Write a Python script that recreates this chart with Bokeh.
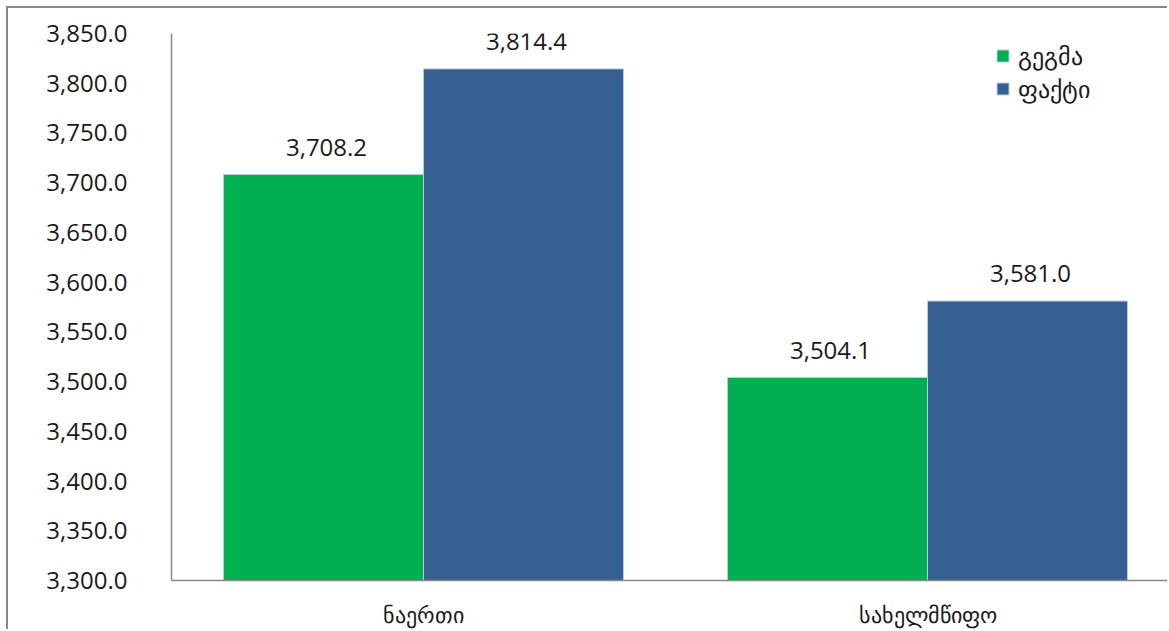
from bokeh.plotting import figure
from bokeh.models import (ColumnDataSource, Range1d, FixedTicker, NumeralTickFormatter,
                          Legend, LegendItem)
from bokeh.transform import dodge
from bokeh.core.properties import value
from bokeh.embed import file_html
from bokeh.resources import INLINE

categories = ["ნაერთი", "სახელმწიფო"]
series_names = ["გეგმა", "ფაქტი"]
plan = [3708.2, 3504.1]
fact = [3814.4, 3581.0]
y_ticks = [3300, 3350, 3400, 3450, 3500, 3550, 3600, 3650, 3700, 3750, 3800, 3850]

GREEN = "#00B050"
BLUE = "#376092"
EDGE = "#B9CBE4"
AXIS = "#898989"
FONT = "Open Sans"

xs = [i + 0.5 for i in range(len(categories))]
src = ColumnDataSource(dict(
    x=xs, plan=plan, fact=fact,
    plan_lbl=[f"{v:,.1f}" for v in plan],
    fact_lbl=[f"{v:,.1f}" for v in fact],
))

p = figure(width=1161, height=623, output_backend="svg", toolbar_location=None,
           x_range=Range1d(0, 998 / 504), y_range=Range1d(y_ticks[0], y_ticks[-1]),
           min_border_left=163, min_border_right=0, min_border_top=25, min_border_bottom=50)
# outer chart border: only left and top edges are visible in the reference
p.styles = {"margin-left": "6px", "margin-top": "6px",
            "border-left": f"2px solid {AXIS}", "border-top": f"2px solid {AXIS}"}
p.outline_line_color = None
p.xgrid.visible = False
p.ygrid.visible = False
p.background_fill_color = "white"
p.border_fill_color = "white"

bw = 200 / 504
r1 = p.vbar(x=dodge("x", -bw / 2, range=p.x_range), top="plan", bottom=y_ticks[0], width=bw,
            source=src, fill_color=GREEN, line_color=EDGE, line_width=1)
r2 = p.vbar(x=dodge("x", bw / 2, range=p.x_range), top="fact", bottom=y_ticks[0], width=bw,
            source=src, fill_color=BLUE, line_color=EDGE, line_width=1)

p.text(x=dodge("x", -bw / 2 + 0.006, range=p.x_range), y="plan", text="plan_lbl", source=src,
       text_align="center", text_baseline="bottom", y_offset=-19,
       text_font=value(FONT), text_font_size="24px", text_color="#1a1a1a")
p.text(x=dodge("x", bw / 2 + 0.006, range=p.x_range), y="fact", text="fact_lbl", source=src,
       text_align="center", text_baseline="bottom", y_offset=-19,
       text_font=value(FONT), text_font_size="24px", text_color="#1a1a1a")

# axes
p.yaxis.ticker = FixedTicker(ticks=y_ticks)
p.yaxis.formatter = NumeralTickFormatter(format="0,0.0")
p.yaxis.major_tick_line_color = None
p.yaxis.minor_tick_line_color = None
p.yaxis.major_tick_out = 0
p.yaxis.major_tick_in = 0
p.yaxis.major_label_standoff = 44
p.yaxis.axis_line_color = AXIS
p.yaxis.axis_line_width = 1.5
p.yaxis.major_label_text_font = FONT
p.yaxis.major_label_text_font_size = "24px"
p.yaxis.major_label_text_color = "#1a1a1a"

p.xaxis.ticker = FixedTicker(ticks=xs)
p.xaxis.major_label_overrides = {x: c for x, c in zip(xs, categories)}
p.xaxis.major_tick_line_color = None
p.xaxis.minor_tick_line_color = None
p.xaxis.major_tick_out = 0
p.xaxis.major_tick_in = 0
p.xaxis.major_label_standoff = 18
p.xaxis.axis_line_color = AXIS
p.xaxis.axis_line_width = 1.5
p.xaxis.major_label_text_font = FONT
p.xaxis.major_label_text_font_size = "22px"
p.xaxis.major_label_text_color = "#1a1a1a"

legend = Legend(items=[LegendItem(label=series_names[0], renderers=[r1]),
                       LegendItem(label=series_names[1], renderers=[r2])],
                location=(824, 475), orientation="vertical",
                glyph_width=15, glyph_height=15, label_height=26, spacing=0,
                label_standoff=8, padding=0, margin=0,
                border_line_color=None, background_fill_alpha=0,
                label_text_font=FONT, label_text_font_size="24px", label_text_color="#1a1a1a")
p.add_layout(legend)

open("out.html", "w").write(file_html(p, INLINE))
